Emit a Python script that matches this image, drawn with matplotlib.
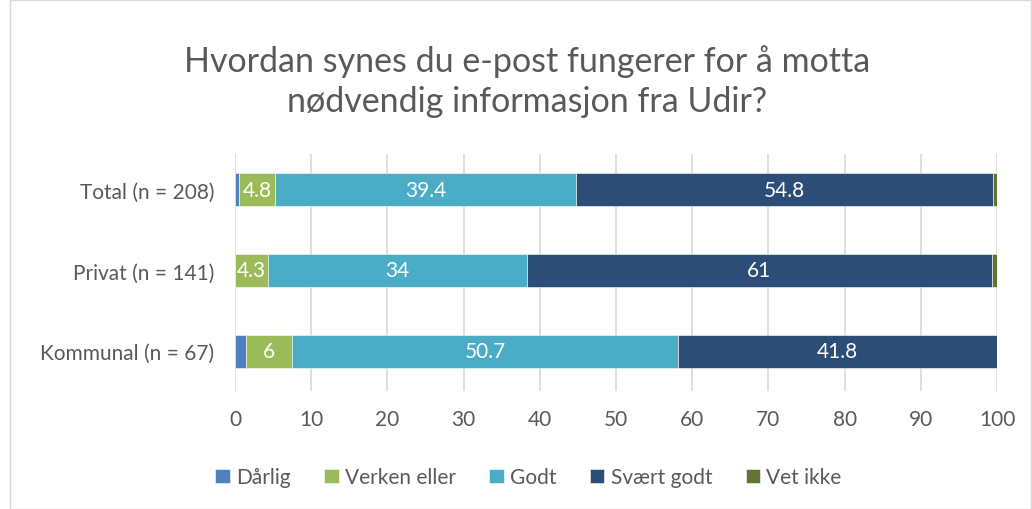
import numpy as np
import matplotlib.pyplot as plt
from matplotlib.patches import Rectangle

plt.rcParams['font.family'] = ['Lato', 'DejaVu Sans']

groups = ['Total (n = 208)', 'Privat (n = 141)', 'Kommunal (n = 67)']
series = ['Dårlig', 'Verken eller', 'Godt', 'Svært godt', 'Vet ikke']
darlig = [0.5, 0.0, 1.5]
verken = [4.8, 4.3, 6.0]
godt = [39.4, 34.0, 50.7]
svaert = [54.8, 61.0, 41.8]
vet_ikke = [0.5, 0.7, 0.0]
values = [darlig, verken, godt, svaert, vet_ikke]
labelled = [False, True, True, True, False]
colors = ['#4F81BD', '#9BBB59', '#4BACC6', '#2C4D75', '#5F7530']
grey = '#595959'

fig = plt.figure(figsize=(10.32, 5.10), dpi=100)
ax = fig.add_axes([0.2277, 0.2314, 0.7384, 0.4647])

y = np.arange(len(groups))
left = np.zeros(len(groups))
for name, vals, col, lab in zip(series, values, colors, labelled):
    vals = np.array(vals)
    bars = ax.barh(y, vals, left=left, height=0.4, color=col, label=name,
                   edgecolor='white', linewidth=0.4, zorder=3)
    if lab:
        for b, v in zip(bars, vals):
            ax.text(b.get_x() + b.get_width() / 2, b.get_y() + b.get_height() / 2,
                    f'{v:g}', ha='center', va='center', color='white',
                    fontsize=15, zorder=4)
    left += vals

ax.set_xlim(0, 100)
ax.set_ylim(2.49, -0.44)
ax.set_xticks(range(0, 101, 10))
ax.set_yticks(y)
ax.set_yticklabels(groups)
ax.tick_params(length=0, labelsize=15, colors=grey)
ax.tick_params(axis='x', pad=13)
ax.tick_params(axis='y', pad=15)
ax.grid(axis='x', color='#D9D9D9', linewidth=1.2, zorder=0)
for s in ax.spines.values():
    s.set_visible(False)

fig.text(0.511, 0.84, 'Hvordan synes du e-post fungerer for å motta\nnødvendig informasjon fra Udir?',
         ha='center', va='center', fontsize=24.5, color=grey, linespacing=1.3)

fig.legend(loc='center', bbox_to_anchor=(0.512, 0.062), ncol=5, frameon=False,
           fontsize=15, handlelength=0.7, handleheight=0.7, handletextpad=0.3,
           columnspacing=1.6, labelcolor=grey)

fig.patches.append(Rectangle((0.01, 0.0), 0.989, 0.999, transform=fig.transFigure,
                             fill=False, edgecolor='#D9D9D9', linewidth=1))

fig.savefig('out.png', dpi=100)
